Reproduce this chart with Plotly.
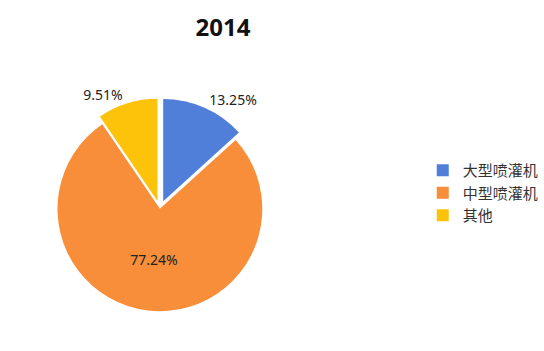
import plotly.graph_objects as go

labels = ["大型喷灌机", "中型喷灌机", "其他"]
values = [13.25, 77.24, 9.51]
colors = ["#4f7fd8", "#f88d3a", "#fcc30a"]
text_labels = ["13.25%", "77.24%", "9.51%"]

fig = go.Figure(go.Pie(
    labels=labels,
    values=values,
    text=text_labels,
    textinfo="text",
    textposition=["outside", "inside", "outside"],
    textfont=dict(size=14, color="#222222"),
    marker=dict(colors=colors, line=dict(color="white", width=0)),
    sort=False,
    direction="clockwise",
    rotation=0,
    pull=[0.08, 0, 0.08],
    domain=dict(x=[0.08, 0.51], y=[0.09, 0.72]),
    showlegend=True,
))

fig.update_layout(
    width=544, height=351,
    margin=dict(l=0, r=0, t=0, b=0),
    paper_bgcolor="white",
    font=dict(family="Noto Sans, Noto Sans CJK SC", color="#333333"),
    title=dict(text="<b>2014</b>", x=0.41, xanchor="center", y=0.92, yanchor="middle",
               font=dict(size=24, color="#111111", family="Noto Sans, Noto Sans CJK SC")),
    legend=dict(x=0.78, xanchor="left", y=0.45, yanchor="middle",
                font=dict(size=15, color="#333333", family="Noto Sans CJK SC"),
                itemwidth=30),
)

fig.write_html("out.html")
